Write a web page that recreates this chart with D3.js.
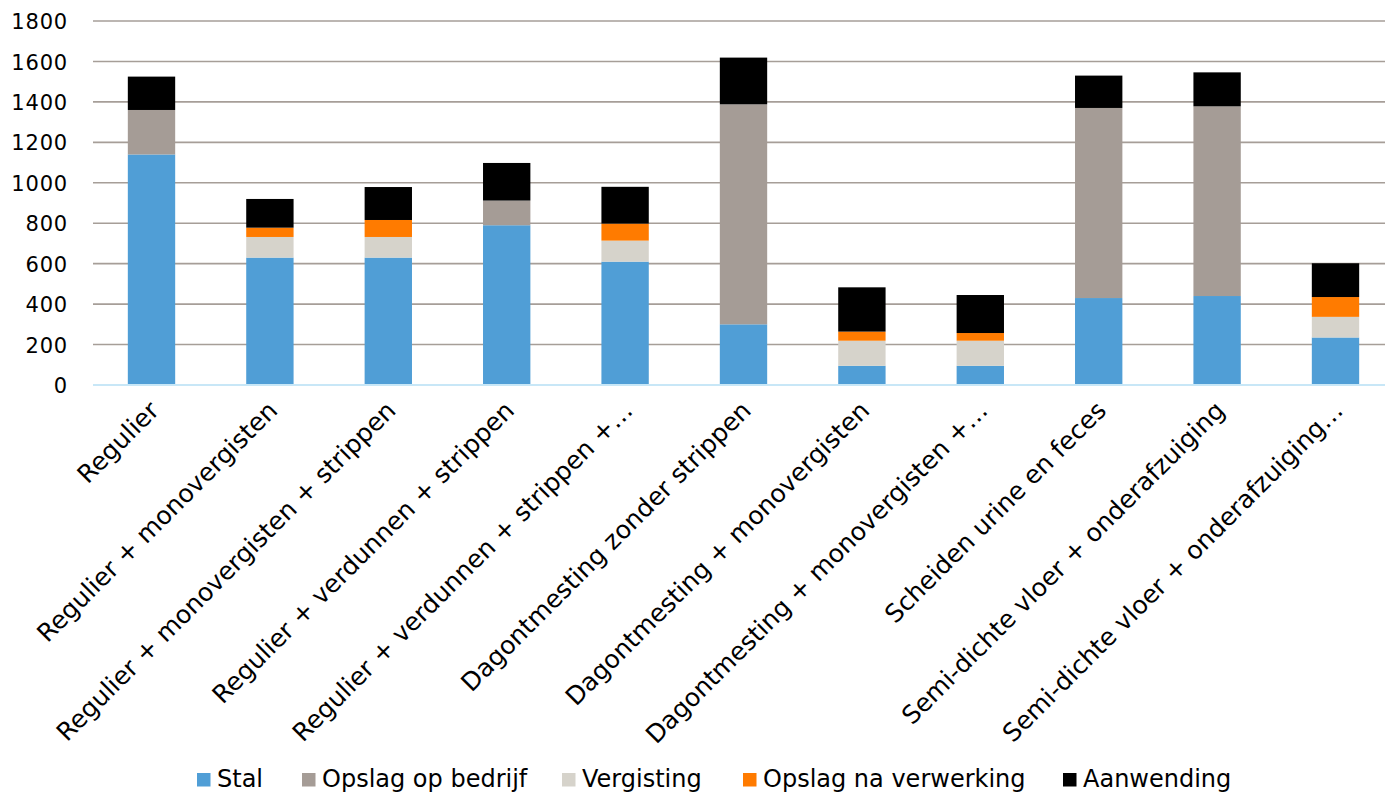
<!DOCTYPE html>
<html>
<head>
<meta charset="utf-8">
<script src="https://cdn.jsdelivr.net/npm/d3@7"></script>
<style>
  html, body { margin: 0; padding: 0; background: #fff; }
  svg { display: block; font-family: "DejaVu Sans", Verdana, sans-serif; }
</style>
</head>
<body>
<svg id="chart" width="1385" height="792"></svg>
<script>
// Scenario names along the x axis
const categories = [
  "Regulier",
  "Regulier + monovergisten",
  "Regulier + monovergisten + strippen",
  "Regulier + verdunnen + strippen",
  "Regulier + verdunnen + strippen +\u2026",
  "Dagontmesting zonder strippen",
  "Dagontmesting + monovergisten",
  "Dagontmesting + monovergisten +\u2026",
  "Scheiden urine en feces",
  "Semi-dichte vloer + onderafzuiging",
  "Semi-dichte vloer + onderafzuiging\u2026"
];

// Stacked components, bottom to top
const seriesNames = ["Stal", "Opslag op bedrijf", "Vergisting", "Opslag na verwerking", "Aanwending"];
const stal              = [1140, 630, 630, 790, 610,  300,  95,  95, 430, 440, 235];
const opslagOpBedrijf   = [ 220,   0,   0, 122,   0, 1088,   0,   0, 940, 938,   0];
const vergisting        = [   0, 102, 102,   0, 104,    0, 124, 124,   0,   0, 102];
const opslagNaVerwerking= [   0,  46,  84,   0,  84,    0,  45,  38,   0,   0,  98];
const aanwending        = [ 165, 142, 163, 186, 182,  231, 219, 188, 160, 168, 167];

const yTicks = [0, 200, 400, 600, 800, 1000, 1200, 1400, 1600, 1800];
const seriesColors = ["#509ed6", "#a59c96", "#d6d3cb", "#ff7b00", "#000000"];

const seriesValues = [stal, opslagOpBedrijf, vergisting, opslagNaVerwerking, aanwending];
const rows = categories.map((c, i) => {
  const r = { cat: c };
  seriesNames.forEach((s, k) => { r[s] = seriesValues[k][i]; });
  return r;
});

const svg = d3.select("#chart");

const x = d3.scaleBand()
  .domain(categories)
  .range([92.3, 1394.7])
  .paddingInner(0.6)
  .paddingOuter(0.3);

const y = d3.scaleLinear()
  .domain([0, 1800])
  .range([385, 21]);

const color = d3.scaleOrdinal().domain(seriesNames).range(seriesColors);

// Horizontal gridlines
svg.append("g")
  .selectAll("line")
  .data(yTicks.filter(t => t > 0))
  .join("line")
  .attr("x1", 93).attr("x2", 1385)
  .attr("y1", d => y(d)).attr("y2", d => y(d))
  .attr("stroke", "#a69e98")
  .attr("stroke-width", 1.6);

// Y axis labels
const yAxis = d3.axisLeft(y).tickValues(yTicks).tickFormat(d3.format("d")).tickSize(0).tickPadding(0);
const yg = svg.append("g").attr("transform", "translate(68,0)").call(yAxis);
yg.select(".domain").remove();
yg.selectAll("text")
  .attr("font-family", "DejaVu Sans, Verdana, sans-serif")
  .attr("font-size", 21)
  .attr("letter-spacing", 0.8)
  .attr("fill", "#000")
  .attr("dy", "0.36em");

// Stacked bars
const stack = d3.stack().keys(seriesNames);
const layers = stack(rows);

svg.append("g")
  .selectAll("g")
  .data(layers)
  .join("g")
  .attr("fill", d => color(d.key))
  .selectAll("rect")
  .data(d => d)
  .join("rect")
  .attr("x", d => x(d.data.cat))
  .attr("width", x.bandwidth())
  .attr("y", d => y(d[1]))
  .attr("height", d => y(d[0]) - y(d[1]));

// Baseline
svg.append("line")
  .attr("x1", 93).attr("x2", 1385)
  .attr("y1", y(0)).attr("y2", y(0))
  .attr("stroke", "#c8e7f7")
  .attr("stroke-width", 2);

// Category labels, rotated
svg.append("g")
  .selectAll("text")
  .data(categories)
  .join("text")
  .attr("transform", d => `translate(${x(d) + x.bandwidth() / 2 + 9},412) rotate(-45)`)
  .attr("text-anchor", "end")
  .attr("font-size", 25)
  .attr("fill", "#000")
  .text(d => d);

// Legend
const legendX = [197, 302, 562, 743, 1063];
const lg = svg.append("g")
  .selectAll("g")
  .data(seriesNames)
  .join("g")
  .attr("transform", (d, i) => `translate(${legendX[i]},0)`);
lg.append("rect")
  .attr("x", 0).attr("y", 773)
  .attr("width", 13.5).attr("height", 13.5)
  .attr("fill", d => color(d));
lg.append("text")
  .attr("x", 20).attr("y", 787)
  .attr("font-size", 24)
  .attr("fill", "#000")
  .text(d => d);
</script>
</body>
</html>
